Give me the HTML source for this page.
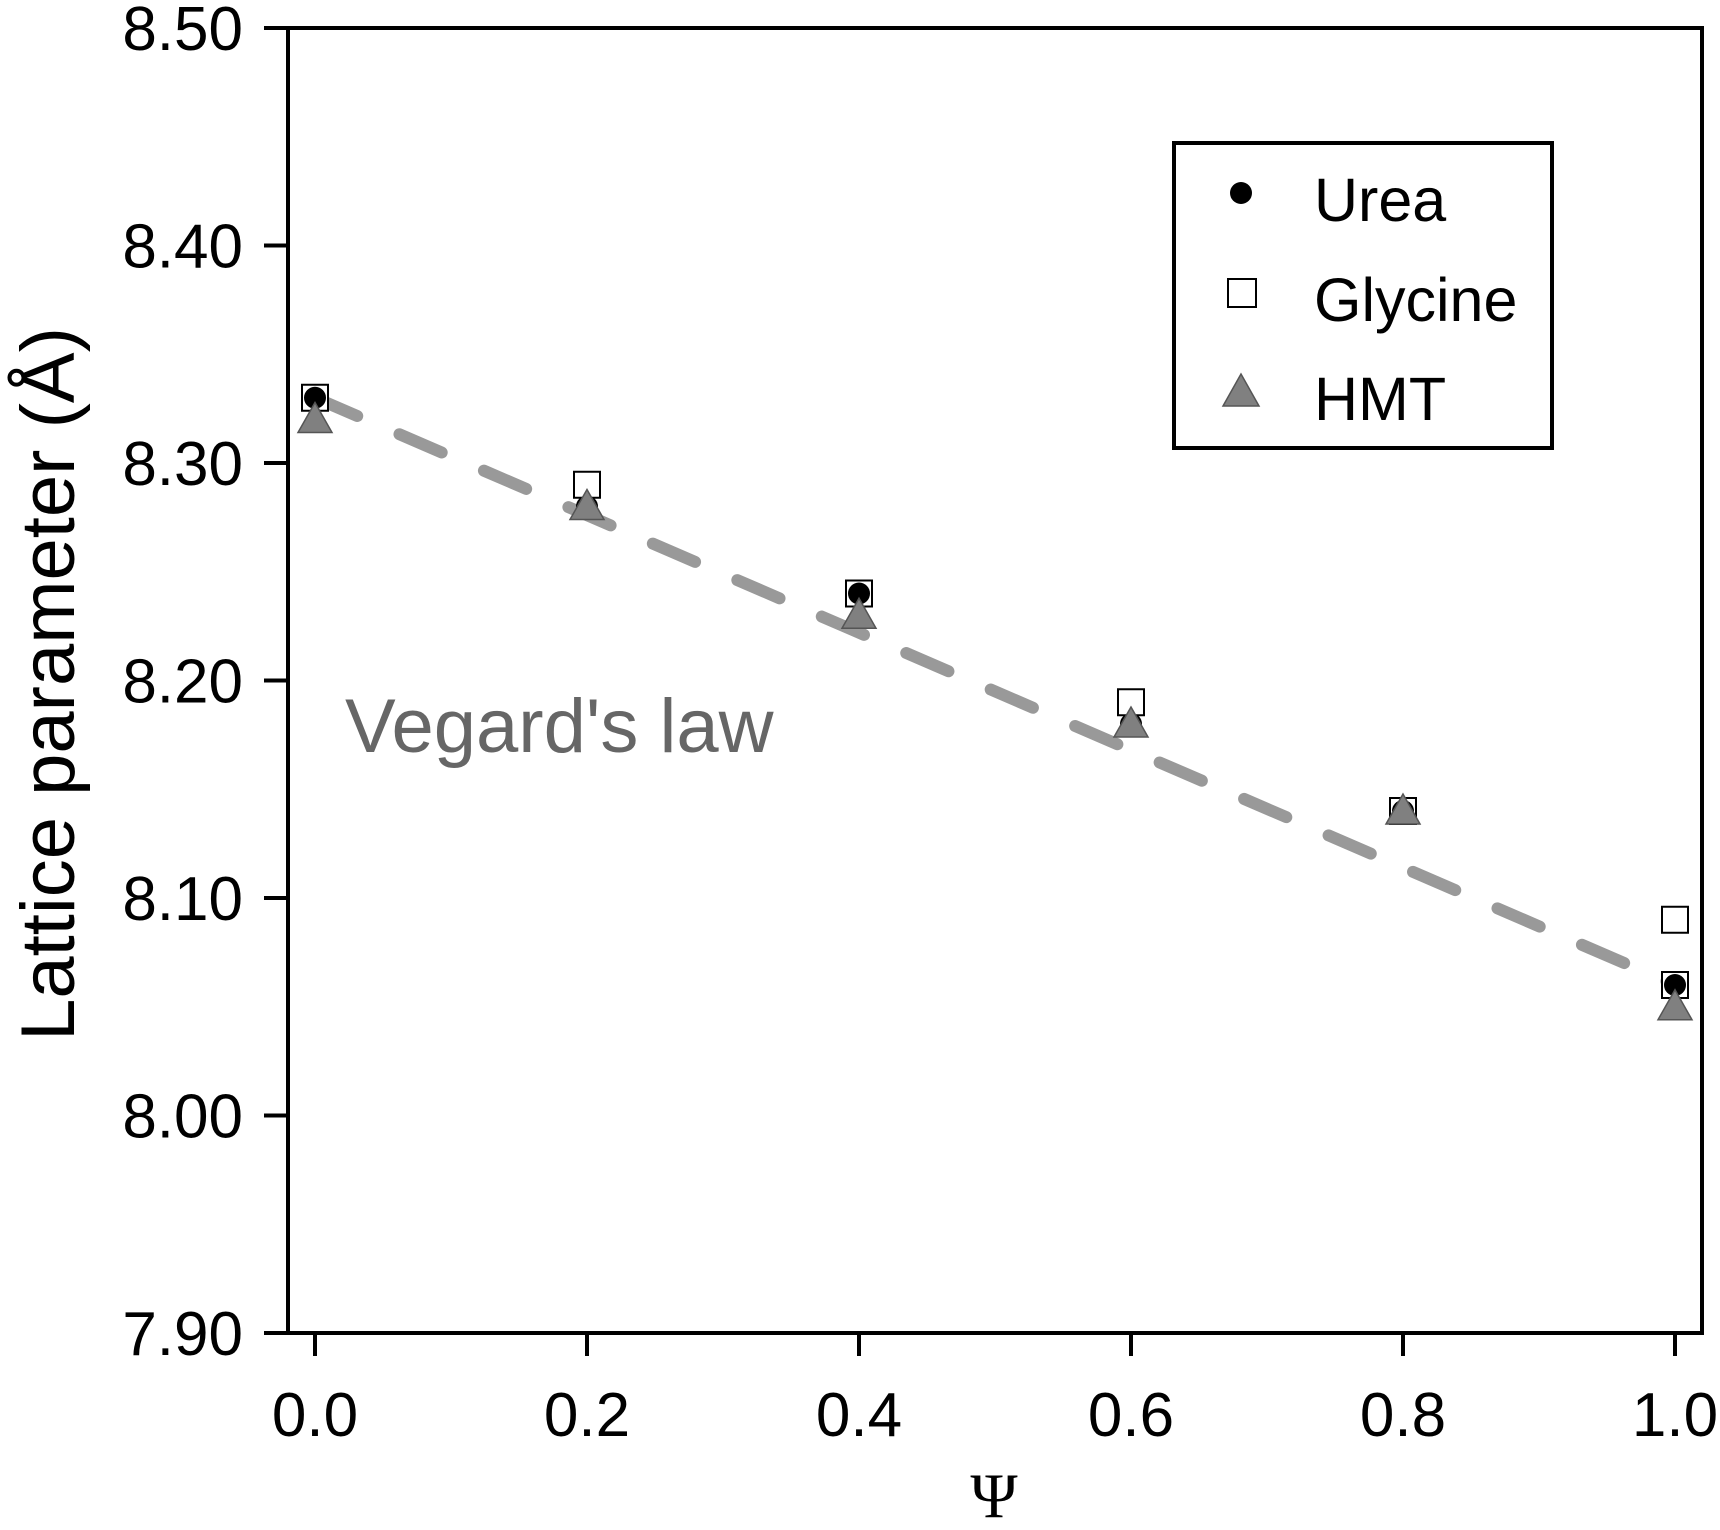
<!DOCTYPE html>
<html><head><meta charset="utf-8"><style>
html,body{margin:0;padding:0;background:#fff;}
svg{display:block;font-family:"Liberation Sans",sans-serif;}
</style></head><body>
<svg id="chart" width="1720" height="1530" viewBox="0 0 1720 1530">
<g id="plot"></g>
</svg>
<script>
const xVals=[0,0.2,0.4,0.6,0.8,1.0];
const urea=[8.33,8.28,8.24,8.18,8.14,8.06];
const glycine=[8.33,8.29,8.24,8.19,8.14,8.09];
const glycineExtraX=[1.0];
const glycineExtra=[8.06];
const hmt=[8.32,8.28,8.23,8.18,8.14,8.05];
const vegardX=[0,1];
const vegardY=[8.33,8.06];
const xTicks=[0,0.2,0.4,0.6,0.8,1.0];
const xTickLabels=["0.0","0.2","0.4","0.6","0.8","1.0"];
const yTicks=[7.9,8.0,8.1,8.2,8.3,8.4,8.5];
const yTickLabels=["7.90","8.00","8.10","8.20","8.30","8.40","8.50"];

const NS="http://www.w3.org/2000/svg";
const L=288,R=1702,T=28,B=1333;
const x0=315,xPer=1360;
function X(v){return x0+v*xPer;}
function Y(v){return B-(v-7.9)/0.6*(B-T);}
const g=document.getElementById('plot');
function mk(tag,attrs,parent){const e=document.createElementNS(NS,tag);for(const k in attrs)e.setAttribute(k,attrs[k]);(parent||g).appendChild(e);return e;}

let frame=mk('rect',{x:L,y:T,width:R-L,height:B-T,fill:'none',stroke:'#000','stroke-width':4});



yTicks.forEach((v,i)=>{
  let t=mk('line',{x1:L-24,x2:L,y1:Y(v),y2:Y(v),stroke:'#000','stroke-width':4});
  
  
  let tx=mk('text',{x:243,y:Y(v)+22,'text-anchor':'end','font-size':62,fill:'#000'});
  tx.textContent=yTickLabels[i];
  
  
});
xTicks.forEach((v,i)=>{
  let t=mk('line',{x1:X(v),x2:X(v),y1:B,y2:B+23,stroke:'#000','stroke-width':4});
  
  
  let tx=mk('text',{x:X(v),y:1436,'text-anchor':'middle','font-size':62,fill:'#000'});
  tx.textContent=xTickLabels[i];
  
  
});

let vl=mk('line',{x1:X(vegardX[0]),y1:Y(vegardY[0]),x2:X(vegardX[1]),y2:Y(vegardY[1]),stroke:'#999','stroke-width':12,'stroke-dasharray':'46 46','stroke-linecap':'round'});



function square(x,y){let s=mk('rect',{x:x-13,y:y-13,width:26,height:26,fill:'#fff',stroke:'#000','stroke-width':2});}
function circle(x,y){let c=mk('circle',{cx:x,cy:y,r:11,fill:'#000'});}
function tri(x,y){let p=mk('polygon',{points:`${x},${y-17} ${x-17},${y+13} ${x+17},${y+13}`,fill:'#808080',stroke:'#555','stroke-width':1.5});}

xVals.forEach((v,i)=>square(X(v),Y(glycine[i])));
glycineExtraX.forEach((v,i)=>square(X(v),Y(glycineExtra[i])));
xVals.forEach((v,i)=>circle(X(v),Y(urea[i])));
xVals.forEach((v,i)=>tri(X(v),Y(hmt[i])));

let vt=mk('text',{x:345,y:752,'font-size':76,fill:'#666'});
vt.textContent="Vegard's law";



let yt=mk('text',{x:0,y:0,'font-size':76,fill:'#000','text-anchor':'middle',transform:'translate(74,684) rotate(-90)'});
yt.textContent="Lattice parameter (Å)";



let xt=mk('text',{x:994,y:1517,'font-size':64,fill:'#000','text-anchor':'middle','font-family':'Liberation Serif, serif'});
xt.textContent="Ψ";



let lg=mk('g',{});


mk('rect',{x:1174,y:143,width:378,height:305,fill:'#fff',stroke:'#000','stroke-width':4},lg);
const legendNames=["Urea","Glycine","HMT"];
const ly=[193,293,392];
let c=mk('circle',{cx:1241,cy:ly[0],r:11,fill:'#000'},lg);
let s=mk('rect',{x:1228,y:ly[1]-14,width:28,height:28,fill:'#fff',stroke:'#000','stroke-width':2},lg);
let p=mk('polygon',{points:`1241,${ly[2]-18} 1223,${ly[2]+14} 1259,${ly[2]+14}`,fill:'#808080',stroke:'#555','stroke-width':1.5},lg);
legendNames.forEach((n,i)=>{
  let t=mk('text',{x:1314,y:ly[i]+28,'font-size':61,fill:'#000'},lg);
  t.textContent=n;
  
  
});
</script>
</body></html>
